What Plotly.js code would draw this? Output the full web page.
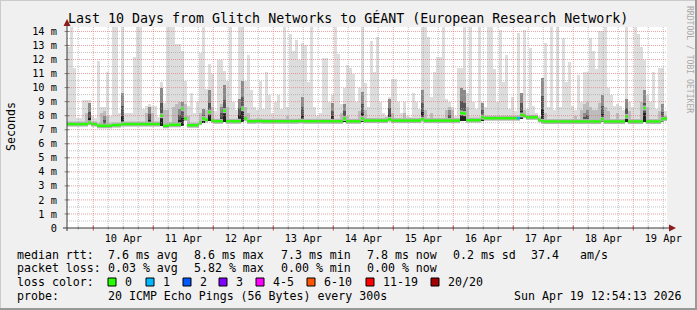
<!DOCTYPE html>
<html><head><meta charset="utf-8">
<script src="https://cdn.plot.ly/plotly-3.0.1.min.js"></script>
<style>html,body{margin:0;padding:0;background:#f0f0f0}</style>
</head><body><div id="chart" style="width:697px;height:310px"></div>
<script>
// ---- data (ms), one bin = 1.2 h, 200 bins over 10 days ----
const dayLabels = ['10 Apr','11 Apr','12 Apr','13 Apr','14 Apr','15 Apr','16 Apr','17 Apr','18 Apr','19 Apr'];
const yTickLabels = ['0','1 m','2 m','3 m','4 m','5 m','6 m','7 m','8 m','9 m','10 m','11 m','12 m','13 m','14 m'];

// upper edge of the light smoke (max ping)
const smokeMax = [
12.9,14.3,11.4,7.8,7.8,9.1,9.1,9.1,8.0,7.8, 11.9,8.6,8.6,11.1,8.0,14.3,14.3,8.2,14.3,8.2,
8.2,8.2,12.2,14.3,14.3,8.5,8.7,8.8,8.7,8.7, 7.9,10.4,8.9,14.3,14.3,14.3,13.1,13.1,12.6,10.5,
8.7,9.6,8.2,9.0,12.5,14.3,9.9,11.7,11.0,8.3, 12.0,12.0,11.2,10.5,14.3,9.0,8.4,14.3,14.3,10.5,
12.3,9.8,8.6,8.4,10.5,8.5,11.1,9.5,8.2,9.0, 9.5,8.5,14.3,8.6,13.8,12.6,13.4,12.0,13.2,13.0,
10.4,14.3,8.6,8.0,8.2,12.1,12.1,9.0,9.5,14.3, 12.4,8.8,10.0,11.6,11.4,11.0,9.0,10.0,14.3,10.3,
8.6,13.3,11.1,13.6,9.0,8.2,8.0,9.3,10.6,10.6, 9.0,8.2,9.0,8.0,7.9,9.6,9.0,8.5,14.3,14.3,
13.6,9.3,11.1,12.2,12.2,14.3,9.2,9.0,8.6,8.0, 11.4,11.4,14.3,9.6,14.3,9.0,8.5,14.3,9.0,8.6,
14.3,14.3,11.3,9.0,14.1,10.4,12.3,8.5,9.3,8.3, 13.9,9.4,14.1,8.5,12.8,8.7,8.2,8.0,10.7,13.2,
8.6,14.3,8.4,14.3,8.6,13.5,10.4,11.8,8.7,8.4, 10.9,9.0,11.1,11.1,13.5,12.6,11.3,14.0,14.0,14.3,
10.0,9.5,8.7,8.8,8.7,8.4,14.3,9.0,8.6,14.3, 13.8,12.9,12.0,9.5,9.0,11.1,8.5,11.4,11.4,8.3
];

// median rtt per bin
const median = [
7.4,7.4,7.4,7.4,7.4,7.4,7.4,7.5,7.4,7.4, 7.28,7.28,7.28,7.28,7.28,7.33,7.33,7.33,7.4,7.4,
7.4,7.4,7.4,7.4,7.4,7.4,7.4,7.4,7.4,7.4, 7.4,8.0,7.28,7.28,7.35,7.35,7.35,7.35,8.5,7.8,
7.32,7.32,7.32,7.32,7.5,7.8,7.7,8.25,7.65,7.6, 7.6,7.6,8.35,7.6,7.6,7.6,7.6,7.6,8.5,7.8,
7.6,7.6,7.6,7.62,7.62,7.6,7.6,7.6,7.6,7.6, 7.6,7.6,7.6,7.6,7.6,7.6,7.6,7.62,7.62,7.6,
7.6,7.6,7.6,7.6,7.6,7.6,7.6,7.6,7.6,7.6, 7.6,7.6,7.8,7.6,7.6,7.6,7.6,7.6,7.8,7.65,
7.65,7.65,7.65,7.65,7.65,7.65,7.65,7.75,7.65,7.65, 7.65,7.65,7.65,7.65,7.65,7.65,7.65,7.65,7.75,7.65,
7.65,7.65,7.65,7.65,7.65,7.65,7.65,7.65,7.65,7.65, 7.65,8.2,8.15,7.68,7.68,7.68,7.68,7.68,7.9,7.82,
7.82,7.82,7.82,7.82,7.82,7.82,7.82,7.82,7.82,7.82, 7.82,8.05,8.0,7.88,7.88,7.88,7.88,7.7,7.6,7.58,
7.58,7.58,7.58,7.58,7.58,7.58,7.58,7.58,7.58,7.58, 7.58,7.58,7.58,7.58,7.58,7.58,7.58,7.58,7.75,7.58,
7.58,7.58,7.58,7.58,7.58,7.58,7.95,7.58,7.58,7.58, 7.58,7.58,8.55,7.58,7.58,7.58,7.58,7.58,7.75,7.8
];

// denser middle smoke: [bin, top]
const smokeMid = [
[6,8.2],[7,8.6],[11,8.2],[12,8.3],[13,8.0],[26,8.2],[27,8.4],[28,8.2],[32,8.4],[33,8.4],
[35,8.6],[36,8.8],[37,9.0],[39,8.8],[40,8.0],[44,8.2],[46,8.4],[48,8.6],[51,8.8],[53,8.6],
[59,8.6],[60,8.2],[73,8.0],[91,8.2],[93,8.0],[97,8.3],[99,8.4],[106,7.9],[108,8.2],[112,8.2],
[119,8.4],[121,8.2],[126,8.4],[127,8.6],[128,8.4],[133,8.6],[152,8.4],[159,8.2],[169,8.0],[171,8.4],
[172,8.8],[173,9.0],[174,8.6],[175,8.4],[176,8.4],[177,8.9],[179,8.6],[180,8.3],[183,8.2],[187,8.3],
[191,9.0],[193,8.6],[197,8.3]
];

// dark core smoke: [bin, top]
const smokeDark = [
[7,8.9],[12,8.0],[18,9.6],[27,8.6],[31,10.0],[37,8.5],[38,9.0],[45,8.5],[47,9.8],[51,8.6],
[52,10.2],[57,9.2],[58,10.5],[78,9.3],[88,8.9],[92,8.8],[98,9.7],[107,9.2],[118,9.8],[127,8.4],
[131,10.0],[132,9.8],[138,8.9],[151,9.6],[158,10.7],[172,8.2],[173,8.4],[178,9.5],[186,9.2],[192,9.8],
[198,8.8]
];

// bins with packet loss: [bin, lost pings]
const lossBins = [[150,1]];

const lossNames  = ['0','1','2','3','4-5','6-10','11-19','20/20'];
const lossColors = ['#26ff00','#00b8ff','#0059ff','#7e00ff','#ff00ff','#ff5500','#ff0000','#a10000'];

// ---- geometry helpers ----
const N = smokeMax.length;
const BIN_H = 240 / N;
const PL = 67, PR = 667, PT = 27, PB = 228;
const PX = px => (px - PL) / (PR - PL);
const PY = py => (PB - py) / (PB - PT);
const MID0 = 10.5; // hours from left edge to 10 Apr 00:00

const xs = smokeMax.map((_, i) => (i + 0.5) * BIN_H);
const lowAt = i => Math.min(median[Math.max(0,i-1)], median[i], median[Math.min(N-1,i+1)]);

function bars(pairs, baseFn, color, frac) {
  const y = new Array(N).fill(null), base = new Array(N).fill(null);
  pairs.forEach(([i, top]) => { const b = baseFn(i); base[i] = b; y[i] = Math.max(0, top - b) * (frac || 1); });
  return {type:'bar', x: xs, y, base, width: BIN_H, marker:{color, line:{width:0}}, hoverinfo:'skip'};
}

const traces = [];
traces.push(bars(smokeMax.map((v,i)=>[i,v]), i => median[i] - 0.12, '#dddddd'));
traces.push(bars(smokeMid, i => median[i] - 0.06, '#bcbcbc'));
// dark streaks shaded: paler top, dark core near the median
traces.push(bars(smokeDark, i => lowAt(i) - 0.05, '#8a8a8a'));
traces.push(bars(smokeDark, i => lowAt(i) - 0.05, '#555555', 0.6));
traces.push(bars(smokeDark, i => lowAt(i) - 0.05, '#222222', 0.3));

function medLine(filter, color, width) {
  const x = [], y = [];
  for (let i = 0; i < N; i++) {
    if (!filter(i)) continue;
    x.push(i*BIN_H, (i+1)*BIN_H, null); y.push(median[i], median[i], null);
  }
  return {type:'scatter', mode:'lines', x, y, line:{color, width}, hoverinfo:'skip'};
}
const lossOf = i => { const e = lossBins.find(p => p[0] === i); return e ? e[1] : 0; };
traces.push(medLine(() => true, '#b4b4b4', 5));
traces.push(medLine(i => lossOf(i) === 0, lossColors[0], 2.5));
traces.push(medLine(i => lossOf(i) === 1, lossColors[1], 2.5));

// ---- shapes: grid (on top, like rrdtool), axes, arrows, legend squares, frame ----
const shapes = [];
const MAJ = 'rgba(225,120,120,0.7)', MIN = 'rgba(170,170,170,0.7)';
for (let h = 4.5; h < 240; h += 6) {
  const major = ((h - MID0) % 24 + 24) % 24 === 0;
  shapes.push({type:'line', xref:'x', yref:'paper', x0:h, x1:h, y0:0, y1:1, layer:'above',
    line:{color: major ? MAJ : MIN, width:1, dash:'1px,1px'}});
  shapes.push({type:'line', xref:'x', yref:'paper', x0:h, x1:h, y0:PY(major?230.5:229.5), y1:PY(major?225.5:226.5), layer:'above',
    line:{color: major ? '#d04040' : '#999', width:1}});
}
for (let v = 0.5; v <= 14.01; v += 0.5) {
  const major = Math.abs(v - Math.round(v)) < 1e-6;
  shapes.push({type:'line', xref:'paper', yref:'y', x0:0, x1:1, y0:v, y1:v, layer:'above',
    line:{color: major ? MAJ : MIN, width:1, dash:'1px,1px'}});
  if (major) shapes.push({type:'line', xref:'paper', yref:'y', x0:PX(64.5), x1:PX(69.5), y0:v, y1:v, layer:'above',
    line:{color:'#888', width:1}});
}
// axes
shapes.push({type:'line', xref:'paper', yref:'paper', x0:PX(67), x1:PX(67), y0:PY(231), y1:PY(23), layer:'above', line:{color:'#3a3a3a', width:1}});
shapes.push({type:'line', xref:'paper', yref:'paper', x0:PX(63), x1:PX(670), y0:PY(228), y1:PY(228), layer:'above', line:{color:'#3a3a3a', width:1}});
// arrows
const tri = pts => 'M ' + pts.map(p => PX(p[0]) + ',' + PY(p[1])).join(' L ') + ' Z';
shapes.push({type:'path', xref:'paper', yref:'paper', path: tri([[67,19],[63.5,26],[70.5,26]]), fillcolor:'#8b1c1c', line:{width:0}, layer:'above'});
shapes.push({type:'path', xref:'paper', yref:'paper', path: tri([[676,228],[669,224.5],[669,231.5]]), fillcolor:'#8b1c1c', line:{width:0}, layer:'above'});
// frame
shapes.push({type:'line', xref:'paper', yref:'paper', x0:PX(0), x1:PX(697), y0:PY(0.5), y1:PY(0.5), line:{color:'#cbcbcb', width:1}});
shapes.push({type:'line', xref:'paper', yref:'paper', x0:PX(0.5), x1:PX(0.5), y0:PY(0), y1:PY(310), line:{color:'#cbcbcb', width:1}});
shapes.push({type:'line', xref:'paper', yref:'paper', x0:PX(0), x1:PX(697), y0:PY(309), y1:PY(309), line:{color:'#999', width:2}});
shapes.push({type:'line', xref:'paper', yref:'paper', x0:PX(696), x1:PX(696), y0:PY(0), y1:PY(310), line:{color:'#999', width:2}});

// legend squares
const sqX = [108,146,183,219,256,307,366,431];
sqX.forEach((x, k) => shapes.push({type:'rect', xref:'paper', yref:'paper',
  x0:PX(x), x1:PX(x+8), y0:PY(278), y1:PY(286), fillcolor: lossColors[k], line:{color:'#000', width:1}}));

// ---- text ----
const FONT = 'DejaVu Sans Mono';
const ann = [];
const T = (px, py, text, size, opts={}) => ann.push(Object.assign({xref:'paper', yref:'paper', x:PX(px), y:PY(py),
  text, showarrow:false, xanchor:'left', yanchor:'middle', font:{family:FONT, size, color:'#000'}}, opts));
T(348, 18.5, 'Last 10 Days from Glitch Networks to GÉANT (European Research Network)', 13.3, {xanchor:'center'});
T(11, 127, 'Seconds', 11.6, {xanchor:'center', textangle:-90});
T(690, 59, 'RRDTOOL / TOBI OETIKER', 8.1, {xanchor:'center', textangle:90, font:{family:FONT, size:8.1, color:'#a8a8a8'}});
const S = 11.6;
const rows = [254.5, 268.3, 282, 295.8];
T(15, rows[0], 'median rtt:', S);
T(106, rows[0], '7.6 ms avg', S); T(192, rows[0], '8.6 ms max', S); T(279, rows[0], '7.3 ms min', S);
T(365, rows[0], '7.8 ms now', S); T(451, rows[0], '0.2 ms sd', S); T(529, rows[0], '37.4', S); T(578, rows[0], 'am/s', S);
T(15, rows[1], 'packet loss:', S);
T(106, rows[1], '0.03 % avg', S); T(192, rows[1], '5.82 % max', S); T(279, rows[1], '0.00 % min', S); T(365, rows[1], '0.00 % now', S);
T(15, rows[2], 'loss color:', S);
sqX.forEach((x, k) => T(x + 15, rows[2], lossNames[k], S));
T(15, rows[3], 'probe:', S);
T(106, rows[3], '20 ICMP Echo Pings (56 Bytes) every 300s', S);
T(512, rows[3], 'Sun Apr 19 12:54:13 2026', S);

const layout = {
  width:697, height:310, margin:{l:PL, r:697-PR, t:PT, b:310-PB, pad:0},
  paper_bgcolor:'#f0f0f0', plot_bgcolor:'#ffffff', showlegend:false,
  barmode:'overlay', bargap:0,
  xaxis:{range:[0,240], tickvals: dayLabels.map((_,d)=> MID0 + 12 + 24*d), ticktext: dayLabels,
    showgrid:false, zeroline:false, showline:false, ticks:'outside', ticklen:1, tickcolor:'rgba(0,0,0,0)', fixedrange:true,
    tickfont:{family:FONT, size:10.3, color:'#000'}},
  yaxis:{range:[0, (PB-PT)/14.04], tickvals: yTickLabels.map((_,k)=>k), ticktext: yTickLabels,
    showgrid:false, zeroline:false, showline:false, ticks:'outside', ticklen:7, tickcolor:'rgba(0,0,0,0)', fixedrange:true,
    tickfont:{family:FONT, size:10.3, color:'#000'}},
  shapes, annotations: ann
};
Plotly.newPlot('chart', traces, layout, {staticPlot:true, displayModeBar:false});
</script></body></html>
